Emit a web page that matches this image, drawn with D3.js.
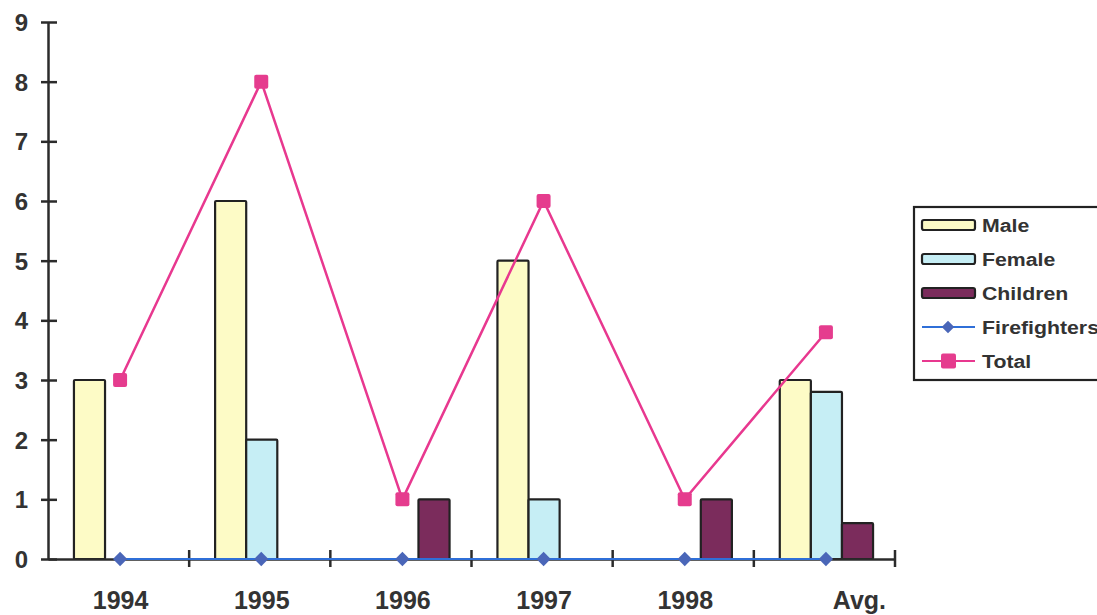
<!DOCTYPE html>
<html>
<head>
<meta charset="utf-8">
<script src="https://cdn.jsdelivr.net/npm/d3@7"></script>
<style>
  html, body { margin: 0; padding: 0; background: #fff; }
  svg { display: block; }
  text { font-family: "Liberation Sans", Arial, sans-serif; font-weight: bold; fill: #333; }
</style>
</head>
<body>
<svg id="chart" width="1097" height="615"></svg>
<script>
// Yearly counts by group, plus the average column
const categories = ["1994", "1995", "1996", "1997", "1998", "Avg."];
const male = [3, 6, 0, 5, 0, 3];
const female = [0, 2, 0, 1, 0, 2.8];
const children = [0, 0, 1, 0, 1, 0.6];
const firefighters = [0, 0, 0, 0, 0, 0];
const total = [3, 8, 1, 6, 1, 3.8];
const yTicks = [0, 1, 2, 3, 4, 5, 6, 7, 8, 9];

const barSeries = [
  { name: "Male", values: male, fill: "#fdfbc6" },
  { name: "Female", values: female, fill: "#c6eef5" },
  { name: "Children", values: children, fill: "#7b2c5c" }
];

const svg = d3.select("#chart");
const plotLeft = 48, plotRight = 895, plotTop = 22, plotBottom = 559;

const x = d3.scaleBand().domain(categories).range([plotLeft, plotRight]).paddingInner(0).paddingOuter(0);
const xSub = d3.scaleBand().domain(barSeries.map(s => s.name))
  .range([0, x.bandwidth()]).paddingOuter(0.77).paddingInner(0);
const y = d3.scaleLinear().domain([0, 9]).range([plotBottom, plotTop]);

const axisColor = "#2b2b2b";

// bars
const groups = svg.append("g").selectAll("g")
  .data(barSeries).join("g").attr("fill", d => d.fill);
groups.selectAll("rect")
  .data(s => categories.map((c, i) => ({ cat: c, v: s.values[i], name: s.name })).filter(d => d.v > 0))
  .join("rect")
  .attr("x", d => x(d.cat) + xSub(d.name) + 2)
  .attr("width", xSub.bandwidth())
  .attr("y", d => y(d.v))
  .attr("height", d => y(0) - y(d.v))
  .attr("stroke", "#222")
  .attr("stroke-width", 2.2)
  .attr("rx", 1);

// y axis
const yAxis = svg.append("g").attr("transform", `translate(${plotLeft},0)`)
  .call(d3.axisLeft(y).tickValues(yTicks).tickSize(0).tickPadding(20).tickFormat(d3.format("d")));
yAxis.select(".domain").attr("stroke", axisColor).attr("stroke-width", 2.5);
yAxis.selectAll(".tick text").attr("font-size", 24).attr("fill", "#333").attr("dy", "0.36em");
yAxis.selectAll(".tick").append("line")
  .attr("x1", -7).attr("x2", 9).attr("stroke", axisColor).attr("stroke-width", 2.5);

// x axis
const xAxis = svg.append("g").attr("transform", `translate(0,${plotBottom})`)
  .call(d3.axisBottom(x).tickSize(0).tickPadding(32));
xAxis.select(".domain").attr("stroke", axisColor).attr("stroke-width", 2.5);
xAxis.selectAll(".tick text").attr("font-size", 25).attr("fill", "#333")
  .attr("dx", d => (d === "Avg." ? 35 : 2));
const boundaries = categories.map(c => x(c)).concat([plotRight]).slice(1);
xAxis.selectAll(".boundary").data(boundaries).join("line")
  .attr("x1", d => d).attr("x2", d => d).attr("y1", -9).attr("y2", 8)
  .attr("stroke", axisColor).attr("stroke-width", 2.5);

const cx = c => x(c) + x.bandwidth() / 2 + 1.5;

// firefighters line
const line = d3.line().x(d => cx(d.cat)).y(d => y(d.v));
const ffData = categories.map((c, i) => ({ cat: c, v: firefighters[i] }));
svg.append("path").datum(ffData).attr("d", line)
  .attr("fill", "none").attr("stroke", "#2f6fd8").attr("stroke-width", 2);
svg.append("g").selectAll("path").data(ffData).join("path")
  .attr("d", d3.symbol(d3.symbolDiamond2, 130))
  .attr("transform", d => `translate(${cx(d.cat)},${y(d.v)})`)
  .attr("fill", "#4a66b8");

// total line
const totData = categories.map((c, i) => ({ cat: c, v: total[i] }));
svg.append("path").datum(totData).attr("d", line)
  .attr("fill", "none").attr("stroke", "#e8388f").attr("stroke-width", 2.5);
svg.append("g").selectAll("rect").data(totData).join("rect")
  .attr("x", d => cx(d.cat) - 7).attr("y", d => y(d.v) - 7)
  .attr("width", 14).attr("height", 14).attr("rx", 2)
  .attr("fill", "#e53c8e");

// legend
const legend = svg.append("g");
legend.append("rect").attr("x", 914).attr("y", 207).attr("width", 200).attr("height", 173)
  .attr("fill", "#fff").attr("stroke", "#222").attr("stroke-width", 2.2);
const legendItems = [
  { name: "Male", type: "bar", fill: barSeries[0].fill },
  { name: "Female", type: "bar", fill: barSeries[1].fill },
  { name: "Children", type: "bar", fill: barSeries[2].fill },
  { name: "Firefighters", type: "diamond", stroke: "#2f6fd8", fill: "#4a66b8" },
  { name: "Total", type: "square", stroke: "#e8388f", fill: "#e53c8e" }
];
const rowY = d3.scalePoint().domain(legendItems.map(d => d.name)).range([225, 361]);
const rows = legend.selectAll("g.row").data(legendItems).join("g")
  .attr("transform", d => `translate(0,${rowY(d.name)})`);
rows.filter(d => d.type === "bar").append("rect")
  .attr("x", 922).attr("y", -5).attr("width", 53).attr("height", 10).attr("rx", 2)
  .attr("fill", d => d.fill).attr("stroke", "#222").attr("stroke-width", 2.2);
rows.filter(d => d.type !== "bar").append("line")
  .attr("x1", 922).attr("x2", 975).attr("stroke", d => d.stroke).attr("stroke-width", 2);
rows.filter(d => d.type === "diamond").append("path")
  .attr("d", d3.symbol(d3.symbolDiamond2, 100)).attr("transform", "translate(948,0)")
  .attr("fill", d => d.fill);
rows.filter(d => d.type === "square").append("rect")
  .attr("x", 941).attr("y", -7.5).attr("width", 15).attr("height", 15).attr("rx", 2)
  .attr("fill", d => d.fill);
rows.append("text").attr("transform", "translate(982,0) scale(1.12,1)")
  .attr("dy", "0.36em").attr("font-size", 19)
  .attr("fill", "#333").text(d => d.name);
</script>
</body>
</html>
